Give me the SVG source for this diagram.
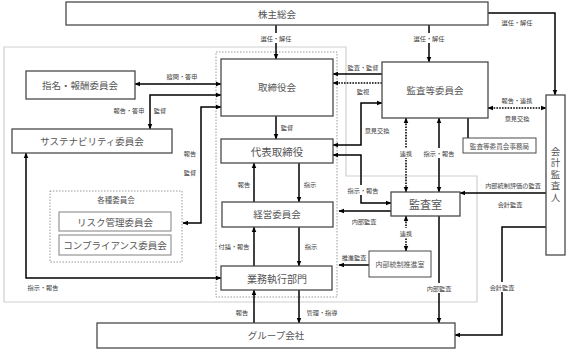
<svg xmlns="http://www.w3.org/2000/svg" width="570" height="349" viewBox="0 0 570 349">
<style>
text{font-family:"Noto Sans CJK JP","Noto Sans",sans-serif;dominant-baseline:central;text-anchor:middle}
.box{fill:#fff;stroke:#4a4a4a;stroke-width:1.3}
.sub{fill:#fff;stroke:#808080;stroke-width:1}
.t{font-size:9.5px;fill:#555}
.ts{font-size:7px;fill:#555}
.l{font-size:6.2px;fill:#404040}
.c{fill:none;stroke:#000;stroke-width:1.5}
.d{fill:none;stroke:#000;stroke-width:1.6;stroke-dasharray:1.6 1.2}
.bg{fill:#fff}
</style>
<defs>
<marker id="a" viewBox="0 0 10 10" refX="9" refY="5" markerWidth="6" markerHeight="6" markerUnits="userSpaceOnUse" orient="auto-start-reverse">
<path d="M0,1 L10,5 L0,9 z" fill="#000"/>
</marker>
</defs>
<g id="regions">
<path d="M4,47 H346 V176 H477 V302 H4 Z" fill="#fff" stroke="#cfcfcf" stroke-width="1.2"/>
<rect x="216" y="52" width="121" height="245" fill="none" stroke="#999" stroke-width="1" stroke-dasharray="1.5 1.5"/>
</g>
<g id="connectors">
<path class="c" d="M276,25 V59" marker-end="url(#a)"/>
<path class="c" d="M429,25 V62" marker-end="url(#a)"/>
<path class="c" d="M488,13 H555 V95" marker-end="url(#a)"/>
<path class="c" d="M135,84 H221" marker-start="url(#a)" marker-end="url(#a)"/>
<path class="c" d="M221,95 H150 V129" marker-start="url(#a)" marker-end="url(#a)"/>
<path class="c" d="M221,107 H201 V223 H183" marker-start="url(#a)" marker-end="url(#a)"/>
<path class="c" d="M26,153 V278 H221" marker-start="url(#a)" marker-end="url(#a)"/>
<path class="c" d="M276,116 V139" marker-end="url(#a)"/>
<path class="c" d="M299,163 V202" marker-end="url(#a)"/>
<path class="c" d="M254,202 V163" marker-end="url(#a)"/>
<path class="c" d="M299,227 V266" marker-end="url(#a)"/>
<path class="c" d="M254,266 V227" marker-end="url(#a)"/>
<path class="c" d="M254,323 V290" marker-end="url(#a)"/>
<path class="c" d="M299,290 V323" marker-end="url(#a)"/>
<path class="c" d="M382,74 H333" marker-end="url(#a)"/>
<path class="d" d="M382,83 H333" marker-end="url(#a)"/>
<path class="c" d="M382,103 H361 V145 H333" marker-start="url(#a)" marker-end="url(#a)"/>
<path class="c" d="M333,155 H361 V203 H391" marker-start="url(#a)" marker-end="url(#a)"/>
<path class="d" d="M406,118 V192" marker-start="url(#a)" marker-end="url(#a)"/>
<path class="c" d="M439,118 V192" marker-start="url(#a)" marker-end="url(#a)"/>
<path class="d" d="M488,108 H546" marker-start="url(#a)" marker-end="url(#a)"/>
<path class="c" d="M546,193 H460" marker-end="url(#a)"/>
<path class="c" d="M391,211 H339" marker-end="url(#a)"/>
<path class="c" d="M369,265 H339" marker-end="url(#a)"/>
<path class="d" d="M406,216 V251" marker-start="url(#a)" marker-end="url(#a)"/>
<path class="c" d="M439,216 V323" marker-end="url(#a)"/>
<path class="c" d="M546,227 H502 V335 H455" marker-end="url(#a)"/>
<path class="c" d="M468,118 V138"/>
<rect class="bg" x="259" y="33" width="34" height="10"/>
<rect class="bg" x="412" y="33" width="34" height="10"/>
<rect class="bg" x="346" y="185" width="34" height="10"/>
<rect class="bg" x="398" y="148" width="16" height="10"/>
<rect class="bg" x="422" y="148" width="34" height="10"/>
<rect class="bg" x="398" y="228" width="16" height="10"/>
<rect class="bg" x="425" y="283" width="28" height="10"/>
<rect class="bg" x="488" y="282" width="28" height="10"/>
<text class="l" x="276" y="38">選任・解任</text>
<text class="l" x="429" y="38">選任・解任</text>
<text class="l" x="517" y="22">選任・解任</text>
<text class="l" x="182" y="76">諮問・答申</text>
<text class="l" x="129" y="110">報告・答申</text>
<text class="l" x="160" y="110">監督</text>
<text class="l" x="190" y="153">報告</text>
<text class="l" x="190" y="172">監督</text>
<text class="l" x="43" y="287">指示・報告</text>
<text class="l" x="287" y="127">監督</text>
<text class="l" x="310" y="184">指示</text>
<text class="l" x="244" y="184">報告</text>
<text class="l" x="311" y="246">指示</text>
<text class="l" x="234" y="246">付議・報告</text>
<text class="l" x="242" y="312">報告</text>
<text class="l" x="322" y="312">管理・指導</text>
<text class="l" x="363" y="67">監査・監督</text>
<text class="l" x="363" y="91">監視</text>
<text class="l" x="377" y="130">意見交換</text>
<text class="l" x="363" y="190">指示・報告</text>
<text class="l" x="406" y="153">連携</text>
<text class="l" x="439" y="153">指示・報告</text>
<text class="l" x="517" y="100">報告・連携</text>
<text class="l" x="517" y="118">意見交換</text>
<text class="l" x="513" y="185">内部統制評価の監査</text>
<text class="l" x="510" y="204">会計監査</text>
<text class="l" x="364" y="221">内部監査</text>
<text class="l" x="354" y="257">推進監査</text>
<text class="l" x="406" y="233">連携</text>
<text class="l" x="439" y="288">内部監査</text>
<text class="l" x="502" y="287">会計監査</text>
</g>
<g id="n-kabunushi"><rect class="box" x="66" y="2" width="422" height="23"/><text class="t" x="277" y="14">株主総会</text></g>
<g id="n-torishimariyakukai"><rect class="box" x="221" y="59" width="112" height="57"/><text class="t" x="277" y="87">取締役会</text></g>
<g id="n-daihyo"><rect class="box" x="221" y="139" width="112" height="24"/><text class="t" x="277" y="151" style="font-size:10.5px">代表取締役</text></g>
<g id="n-keiei"><rect class="box" x="222" y="202" width="111" height="25"/><text class="t" x="277" y="214">経営委員会</text></g>
<g id="n-gyomu"><rect class="box" x="221" y="266" width="111" height="24"/><text class="t" x="277" y="278" style="font-size:10px">業務執行部門</text></g>
<g id="n-group"><rect class="box" x="97" y="323" width="358" height="25"/><text class="t" x="276" y="335">グループ会社</text></g>
<g id="n-shimei"><rect class="box" x="26" y="71" width="109" height="28"/><text class="t" x="80" y="85">指名・報酬委員会</text></g>
<g id="n-sustainability"><rect class="box" x="12" y="129" width="160" height="24"/><text class="t" x="92" y="141">サステナビリティ委員会</text></g>
<g id="n-kakushu"><rect x="50" y="191" width="132" height="71" fill="none" stroke="#999" stroke-width="1" stroke-dasharray="1.5 1.5"/><text class="ts" x="116" y="199" style="font-size:7.5px">各種委員会</text></g>
<g id="n-risk"><rect class="sub" x="59" y="212" width="112" height="19"/><text class="t" x="115" y="221.5">リスク管理委員会</text></g>
<g id="n-compliance"><rect class="sub" x="59" y="235" width="112" height="20"/><text class="t" x="115" y="245">コンプライアンス委員会</text></g>
<g id="n-kansatoiinkai"><rect class="box" x="382" y="62" width="106" height="56"/><text class="t" x="435" y="90">監査等委員会</text></g>
<g id="n-jimukyoku"><rect class="box" x="463" y="138" width="73" height="15" style="stroke-width:1"/><text class="ts" x="499.5" y="145.5" style="font-size:6.6px">監査等委員会事務局</text></g>
<g id="n-kaikei"><rect class="box" x="546" y="95" width="19" height="160"/>
<text class="t" x="555.5" y="175" style="writing-mode:vertical-rl;letter-spacing:2px">会計監査人</text></g>
<g id="n-kansashitsu"><rect class="box" x="391" y="192" width="69" height="24"/><text class="t" x="425.5" y="204" style="font-size:11px">監査室</text></g>
<g id="n-naibutosei"><rect class="box" x="369" y="251" width="62" height="26" style="stroke-width:1"/><text class="ts" x="400" y="264">内部統制推進室</text></g>
</svg>
